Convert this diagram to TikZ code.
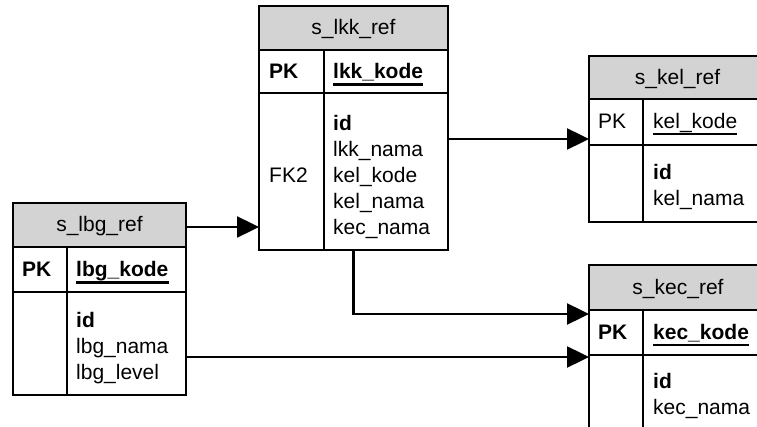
\documentclass[tikz,border=0pt]{standalone}
\usepackage{fontspec}
\setmainfont{Liberation Sans}
\usetikzlibrary{arrows.meta}
\definecolor{hdrgray}{RGB}{211,211,211}
\tikzset{
  hdrbox/.style={draw, fill=hdrgray, line width=1.1pt, inner sep=0pt, outer sep=0pt},
  tblbox/.style={draw, line width=1.1pt, inner sep=0pt, outer sep=0pt},
  sepline/.style={line width=1.1pt},
  lbl/.style={anchor=base west, inner sep=0pt, font=\fontsize{21}{25}\selectfont},
  lblb/.style={anchor=base west, inner sep=0pt, font=\fontsize{21}{25}\selectfont\bfseries},
  ttl/.style={anchor=base, inner sep=0pt, font=\fontsize{21}{25}\selectfont},
  ulbold/.style={line width=2.4pt},
  ulnorm/.style={line width=1.5pt},
  conn/.style={line width=2.4pt, -{Triangle[length=22pt,width=21pt]}},
}
\begin{document}
\begin{tikzpicture}[x=1pt,y=-1pt]
\useasboundingbox (0,0) rectangle (757,427);
\clip (0,0) rectangle (757,427);
\fill[white] (0,0) rectangle (757,427);

% ---------- s_lkk_ref ----------
\node[hdrbox, minimum width=189pt, minimum height=44pt] (lkkH) at (353.5,28) {};
\node[tblbox, minimum width=189pt, minimum height=244pt] (lkk) at (353.5,128) {};
\draw[sepline] (259,93) -- (448,93);
\draw[sepline] (324,50) -- (324,250);
\node[ttl] (lkkT) at (353.5,35) {s\_lkk\_ref};
\node[lblb] (lkkPK) at (269,79) {PK};
\node[lblb] (lkkK) at (333,79) {lkk\_kode};
\draw[ulbold] ([yshift=-5.5pt]lkkK.base west) -- ([yshift=-5.5pt]lkkK.base east);
\node[lblb] (lkk1) at (333,131) {id};
\node[lbl] (lkk2) at (333,157) {lkk\_nama};
\node[lbl] (lkk3) at (333,183) {kel\_kode};
\node[lbl] (lkk4) at (333,209) {kel\_nama};
\node[lbl] (lkk5) at (333,235) {kec\_nama};
\node[lbl] (lkkFK) at (269,183) {FK2};

% ---------- s_lbg_ref ----------
\node[hdrbox, minimum width=173pt, minimum height=44pt] (lbgH) at (99.5,225) {};
\node[tblbox, minimum width=173pt, minimum height=192pt] (lbg) at (99.5,299) {};
\draw[sepline] (13,292) -- (186,292);
\draw[sepline] (67,247) -- (67,395);
\node[ttl] (lbgT) at (99.5,232) {s\_lbg\_ref};
\node[lblb] (lbgPK) at (22,277) {PK};
\node[lblb] (lbgK) at (76,277) {lbg\_kode};
\draw[ulbold] ([yshift=-5.5pt]lbgK.base west) -- ([yshift=-5.5pt]lbgK.base east);
\node[lblb] (lbg1) at (76,327) {id};
\node[lbl] (lbg2) at (76,353) {lbg\_nama};
\node[lbl] (lbg3) at (76,379) {lbg\_level};

% ---------- s_kel_ref ----------
\node[hdrbox, minimum width=177pt, minimum height=43pt] (kelH) at (677.5,77.5) {};
\node[tblbox, minimum width=177pt, minimum height=166pt] (kel) at (677.5,139) {};
\draw[sepline] (589,145) -- (766,145);
\draw[sepline] (643,99) -- (643,222);
\node[ttl] (kelT) at (677.5,84.5) {s\_kel\_ref};
\node[lbl] (kelPK) at (598,129) {PK};
\node[lbl] (kelK) at (653,129) {kel\_kode};
\draw[ulnorm] ([yshift=-5pt]kelK.base west) -- ([yshift=-5pt]kelK.base east);
\node[lblb] (kel1) at (653,180) {id};
\node[lbl] (kel2) at (653,206) {kel\_nama};

% ---------- s_kec_ref ----------
\node[hdrbox, minimum width=178pt, minimum height=45pt] (kecH) at (678,287.5) {};
\node[tblbox, minimum width=178pt, minimum height=180pt] (kec) at (678,355) {};
\draw[sepline] (589,355) -- (767,355);
\draw[sepline] (643,310) -- (643,445);
\node[ttl] (kecT) at (678,294.5) {s\_kec\_ref};
\node[lblb] (kecPK) at (598,339.5) {PK};
\node[lblb] (kecK) at (653,339.5) {kec\_kode};
\draw[ulbold] ([yshift=-5.5pt]kecK.base west) -- ([yshift=-5.5pt]kecK.base east);
\node[lblb] (kec1) at (653,388) {id};
\node[lbl] (kec2) at (653,414) {kec\_nama};

% ---------- connectors ----------
\coordinate (kelIn) at (589,139);
\coordinate (kecIn1) at (589,314);
\coordinate (kecIn2) at (589,357);
\draw[conn] ([yshift=-2pt]lbgH.east) -- ([yshift=-2pt]lbgH.east -| lkk.west);
\draw[conn] (kelIn -| lkk.east) -- (kelIn);
\draw[conn] (lkk.south) |- (kecIn1);
\draw[conn] (kecIn2 -| lbg.east) -- (kecIn2);
\end{tikzpicture}
\end{document}
